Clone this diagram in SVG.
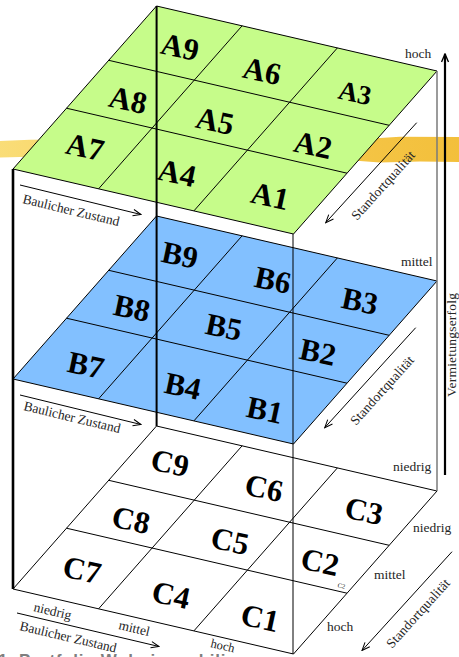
<svg xmlns="http://www.w3.org/2000/svg" width="459" height="657" viewBox="0 0 459 657">
<style>
.big{font-family:"Liberation Serif",serif;font-weight:bold;font-size:31px;fill:#000;text-anchor:middle;dominant-baseline:central}
.lbl{font-family:"Liberation Serif",serif;font-size:13.5px;fill:#262626}
.pl{stroke:#000;stroke-width:1;stroke-linejoin:round}
.gr{stroke:#000;stroke-width:1;fill:none}
.ar{stroke:#000;stroke-width:1;fill:none}
</style>
<defs>
<marker id="ah" markerUnits="userSpaceOnUse" markerWidth="10" markerHeight="8" refX="9" refY="4" orient="auto">
<path d="M1,0.8 L9,4 L1,7.2" fill="none" stroke="#000" stroke-width="1"/>
</marker>
<marker id="ahv" markerUnits="userSpaceOnUse" markerWidth="10" markerHeight="10" refX="9" refY="4" orient="auto">
<path d="M1,0.5 L9,4 L1,7.5" fill="none" stroke="#000" stroke-width="1.4"/>
</marker>
<linearGradient id="hl" x1="0" y1="0" x2="459" y2="0" gradientUnits="userSpaceOnUse">
<stop offset="0" stop-color="#F9DA6C"/>
<stop offset="0.5" stop-color="#F5C642"/>
<stop offset="1" stop-color="#F2BA2A"/>
</linearGradient>
<g id="grid">
<line class="gr" x1="108.7" y1="60.3" x2="389.2" y2="125.3"/>
<line class="gr" x1="66.5" y1="108.2" x2="347" y2="173.2"/>
<line class="gr" x1="242.1" y1="25.8" x2="98.6" y2="188.8"/>
<line class="gr" x1="337.4" y1="47.9" x2="193.9" y2="210.9"/>
</g>
</defs>

<rect width="459" height="657" fill="#fff"/>

<!-- highlighter stroke -->
<path id="highlight" d="M0,141 L12,140.5 L30,139.8 L120,139 L300,138.5 L360,137.5 L380,138 L400,136.8 L459,137 L459,162 L420,161.5 L380,162.5 L360,161 L200,159.5 L40,157.8 L20,157 L0,157.5 Z" fill="url(#hl)" opacity="0.92"/>

<!-- layer C (niedrig) -->
<g id="layerC">
<polygon class="pl" points="156.5,426 13,589 293.5,654 437,491" fill="#fff"/>
<use href="#grid" transform="translate(0,420)"/>
</g>
<!-- layer B (mittel) -->
<g id="layerB">
<polygon class="pl" points="156.5,216 13,379 293.5,444 437,281" fill="#82C0FF"/>
<use href="#grid" transform="translate(0,210)"/>
</g>
<!-- layer A (hoch) -->
<g id="layerA">
<polygon class="pl" points="156.5,6 13,169 293.5,234 437,71" fill="#C6FC8A"/>
<use href="#grid"/>
</g>

<!-- connectors: cube edges and axis arrows -->
<g id="connectors">
<line x1="13" y1="169" x2="13" y2="589" stroke="#000" stroke-width="2.6"/>
<line x1="156.6" y1="6" x2="156.6" y2="426" stroke="#000" stroke-width="2"/>
<line x1="437" y1="71" x2="437" y2="491" stroke="#7a7a7a" stroke-width="1.5"/>
<line x1="293" y1="234" x2="293" y2="654" stroke="#000" stroke-width="1"/>
<line x1="445" y1="475" x2="445" y2="54" stroke="#000" stroke-width="2.2" marker-end="url(#ahv)"/>
<line class="ar" x1="20" y1="185" x2="141" y2="214.5" marker-end="url(#ah)"/>
<line class="ar" x1="20" y1="395" x2="141" y2="424.5" marker-end="url(#ah)"/>
<line class="ar" x1="17" y1="613" x2="159" y2="646.5" marker-end="url(#ah)"/>
<line class="ar" x1="416.7" y1="122.7" x2="325.7" y2="222.7" marker-end="url(#ah)"/>
<line class="ar" x1="415.7" y1="327.7" x2="324.7" y2="427.7" marker-end="url(#ah)"/>
<line class="ar" x1="452" y1="551.7" x2="362" y2="650.5" marker-end="url(#ah)"/>
</g>

<!-- cell labels -->
<g id="A9"><text class="big" transform="translate(180,47) rotate(12)">A9</text></g>
<g id="A6"><text class="big" transform="translate(262,71) rotate(12)">A6</text></g>
<g id="A3"><text class="big" transform="translate(355,93) rotate(12)" style="font-size:27px">A3</text></g>
<g id="A8"><text class="big" transform="translate(128,100) rotate(12)">A8</text></g>
<g id="A5"><text class="big" transform="translate(215,121) rotate(12)">A5</text></g>
<g id="A2"><text class="big" transform="translate(313,145) rotate(12)">A2</text></g>
<g id="A7"><text class="big" transform="translate(85,147) rotate(12)">A7</text></g>
<g id="A4"><text class="big" transform="translate(177,173) rotate(12)">A4</text></g>
<g id="A1"><text class="big" transform="translate(270,196) rotate(12)">A1</text></g>

<g id="B9"><text class="big" transform="translate(180,255) rotate(12)">B9</text></g>
<g id="B6"><text class="big" transform="translate(273,280) rotate(12)">B6</text></g>
<g id="B3"><text class="big" transform="translate(360,301) rotate(12)">B3</text></g>
<g id="B8"><text class="big" transform="translate(132,308) rotate(12)">B8</text></g>
<g id="B5"><text class="big" transform="translate(224,327) rotate(12)">B5</text></g>
<g id="B2"><text class="big" transform="translate(318,352) rotate(12)">B2</text></g>
<g id="B7"><text class="big" transform="translate(86,365) rotate(12)">B7</text></g>
<g id="B4"><text class="big" transform="translate(183,386) rotate(12)">B4</text></g>
<g id="B1"><text class="big" transform="translate(265,410) rotate(12)">B1</text></g>

<g id="C9"><text class="big" transform="translate(170,463) rotate(12)">C9</text></g>
<g id="C6"><text class="big" transform="translate(264,488) rotate(12)">C6</text></g>
<g id="C3"><text class="big" transform="translate(364,511) rotate(12)">C3</text></g>
<g id="C8"><text class="big" transform="translate(131,520) rotate(12)">C8</text></g>
<g id="C5"><text class="big" transform="translate(230,541) rotate(12)">C5</text></g>
<g id="C2"><text class="big" transform="translate(320,562) rotate(12)">C2</text></g>
<g id="C7"><text class="big" transform="translate(82,570) rotate(12)">C7</text></g>
<g id="C4"><text class="big" transform="translate(171,595) rotate(12)">C4</text></g>
<g id="C1"><text class="big" transform="translate(260,618) rotate(12)">C1</text></g>
<text transform="translate(341,588) rotate(13)" style="font-family:'Liberation Serif',serif;font-size:6.5px;fill:#222;text-anchor:middle">C2</text>

<!-- axis labels -->
<text class="lbl" transform="translate(22,203) rotate(13.5)" textLength="99">Baulicher Zustand</text>
<text class="lbl" transform="translate(23,410) rotate(13.5)" textLength="99">Baulicher Zustand</text>
<text class="lbl" transform="translate(19,630) rotate(13.2)" textLength="99">Baulicher Zustand</text>
<text class="lbl" transform="translate(33,611) rotate(13.2)">niedrig</text>
<text class="lbl" transform="translate(118,629) rotate(13.2)">mittel</text>
<text class="lbl" transform="translate(210,647) rotate(13.2)" style="font-size:12.5px">hoch</text>

<text class="lbl" transform="translate(357,221) rotate(-48)" textLength="88">Standortqualität</text>
<text class="lbl" transform="translate(356,426) rotate(-48)" textLength="88">Standortqualität</text>
<text class="lbl" transform="translate(392,649) rotate(-48)" textLength="88">Standortqualität</text>

<text class="lbl" x="405" y="58">hoch</text>
<text class="lbl" x="401" y="266">mittel</text>
<text class="lbl" x="393" y="471">niedrig</text>
<text class="lbl" transform="translate(456,345) rotate(-90)" text-anchor="middle" textLength="104">Vermietungserfolg</text>

<text class="lbl" x="413" y="532">niedrig</text>
<text class="lbl" x="374" y="579">mittel</text>
<text class="lbl" x="327" y="631">hoch</text>

<!-- caption (cut off at bottom, as in the reference) -->
<text x="-2" y="666" style="font-family:'Liberation Sans',Arial,sans-serif;font-weight:bold;font-size:17px;fill:#7f7f7f" textLength="255">1. Portfolio Wohnimmobilien:</text>
</svg>
